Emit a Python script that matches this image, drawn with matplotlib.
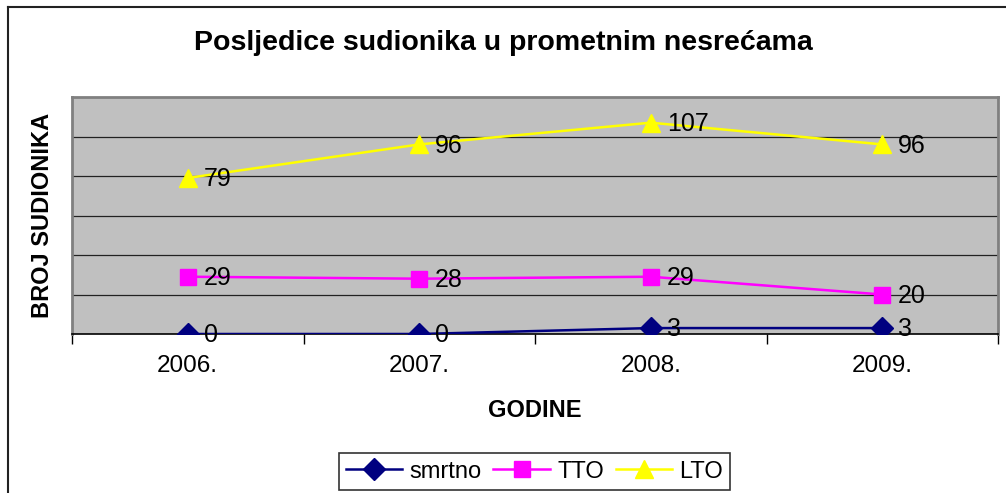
import matplotlib.pyplot as plt
from matplotlib.lines import Line2D

plt.rcParams['font.family'] = ['Liberation Sans', 'DejaVu Sans']

years = ['2006.', '2007.', '2008.', '2009.']
smrtno = [0, 0, 3, 3]
tto = [29, 28, 29, 20]
lto = [79, 96, 107, 96]

fig = plt.figure(figsize=(10.06, 4.93), dpi=100)
ax = fig.add_axes([72 / 1006, 1 - 334 / 493, 926 / 1006, 237 / 493])
ax.set_facecolor('#C0C0C0')

x = range(len(years))
series = [
    ('smrtno', smrtno, '#000080', 'D', 11),
    ('TTO', tto, '#FF00FF', 's', 11),
    ('LTO', lto, '#FFFF00', '^', 13),
]
for name, vals, col, mk, ms in series:
    ax.plot(x, vals, color=col, lw=1.8, marker=mk, markersize=ms,
            markerfacecolor=col, markeredgecolor=col, label=name, zorder=3)
    for xi, v in zip(x, vals):
        ax.annotate(str(v), (xi, v), xytext=(11.5, -1), textcoords='offset points',
                    ha='left', va='center', fontsize=18, color='black', zorder=4)

ax.set_xlim(-0.5, 3.5)
ax.set_ylim(0, 120)
ax.set_yticks(range(20, 120, 20))
ax.yaxis.grid(True, color='#222222', lw=0.9)
ax.set_axisbelow(True)
ax.tick_params(axis='y', length=0, labelleft=False)

ax.set_xticks(list(x))
ax.set_xticklabels(years, fontsize=17.5)
ax.set_xticks([-0.5, 0.5, 1.5, 2.5, 3.5], minor=True)
ax.tick_params(axis='x', which='major', length=0, pad=15)
ax.tick_params(axis='x', which='minor', length=7, width=1, color='black', direction='out')

for s in ['top', 'right', 'left']:
    ax.spines[s].set_color('#808080')
    ax.spines[s].set_linewidth(2)
ax.spines['bottom'].set_color('black')
ax.spines['bottom'].set_linewidth(1.2)

ax.set_xlabel('GODINE', fontsize=17, fontweight='bold', labelpad=16)
ax.set_ylabel('BROJ SUDIONIKA', fontsize=17, fontweight='bold', labelpad=13)

fig.text(0.5, 1 - 43 / 493, 'Posljedice sudionika u prometnim nesrećama',
         ha='center', va='center', fontsize=20.5, fontweight='bold')

leg = fig.legend(loc='center', bbox_to_anchor=(534.5 / 1006, 1 - 471.5 / 493), ncol=3,
                 fontsize=17, frameon=True, fancybox=False, edgecolor='black',
                 handlelength=2.4, columnspacing=0.5, handletextpad=0.3,
                 borderpad=0.3, borderaxespad=0)
leg.get_frame().set_linewidth(1.2)

# outer chart border (left and top only visible)
fig.add_artist(Line2D([8 / 1006, 8 / 1006], [0, 1 - 7 / 493], color='#222222', lw=1.5))
fig.add_artist(Line2D([8 / 1006, 1], [1 - 7 / 493, 1 - 7 / 493], color='#222222', lw=1.5))

fig.savefig('out.png', dpi=100)
